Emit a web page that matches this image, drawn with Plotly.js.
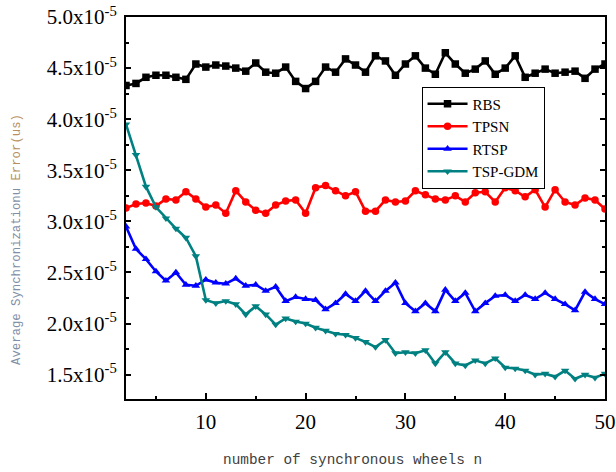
<!DOCTYPE html>
<html>
<head>
<meta charset="utf-8">
<script src="https://cdn.plot.ly/plotly-3.0.1.min.js"></script>
<style>html,body{margin:0;padding:0;background:#fff;}#chart{width:616px;height:472px;}</style>
</head>
<body>
<div id="chart"></div>
<script>
// number of synchronous wheels n
const nValues = [2,3,4,5,6,7,8,9,10,11,12,13,14,15,16,17,18,19,20,21,22,23,24,25,26,27,28,29,30,31,32,33,34,35,36,37,38,39,40,41,42,43,44,45,46,47,48,49,50];
// values in units of 1e-5 us
const SCALE = 1e-5;
const rbs = [4.33,4.35,4.41,4.43,4.43,4.41,4.39,4.54,4.51,4.53,4.52,4.50,4.47,4.55,4.46,4.45,4.51,4.37,4.30,4.37,4.51,4.46,4.59,4.53,4.46,4.62,4.57,4.43,4.54,4.62,4.50,4.44,4.65,4.54,4.45,4.49,4.57,4.44,4.50,4.62,4.41,4.45,4.49,4.45,4.46,4.47,4.40,4.49,4.54];
const tpsn = [3.13,3.17,3.18,3.15,3.22,3.21,3.29,3.22,3.14,3.16,3.08,3.30,3.19,3.11,3.08,3.16,3.20,3.21,3.08,3.33,3.35,3.30,3.25,3.29,3.10,3.10,3.21,3.19,3.20,3.30,3.26,3.22,3.21,3.25,3.19,3.28,3.29,3.19,3.33,3.30,3.24,3.31,3.14,3.31,3.19,3.16,3.23,3.21,3.12];
const rtsp = [2.95,2.73,2.63,2.51,2.42,2.50,2.38,2.37,2.43,2.40,2.39,2.44,2.37,2.38,2.32,2.36,2.22,2.26,2.24,2.23,2.14,2.20,2.29,2.22,2.32,2.22,2.32,2.40,2.20,2.12,2.20,2.12,2.33,2.22,2.30,2.12,2.20,2.27,2.28,2.22,2.28,2.24,2.30,2.24,2.19,2.13,2.31,2.24,2.19];
const tspgdm = [3.95,3.65,3.34,3.14,3.03,2.93,2.84,2.66,2.23,2.20,2.22,2.19,2.09,2.17,2.09,1.99,2.05,2.02,2.00,1.96,1.93,1.90,1.89,1.86,1.82,1.77,1.84,1.71,1.72,1.71,1.74,1.61,1.72,1.61,1.59,1.64,1.61,1.66,1.57,1.56,1.54,1.50,1.51,1.48,1.54,1.46,1.50,1.47,1.51];
const seriesNames = ["RBS","TPSN","RTSP","TSP-GDM"];
const seriesColors = ["#000000","#ff0000","#0000ff","#008080"];
const seriesSymbols = ["square","circle","triangle-up","triangle-down"];
const yTickVals = [1.5,2.0,2.5,3.0,3.5,4.0,4.5,5.0];
const yTickText = ["1.5x10<sup>-5</sup>","2.0x10<sup>-5</sup>","2.5x10<sup>-5</sup>","3.0x10<sup>-5</sup>","3.5x10<sup>-5</sup>","4.0x10<sup>-5</sup>","4.5x10<sup>-5</sup>","5.0x10<sup>-5</sup>"];
const xTickVals = [10,20,30,40,50];

const allSeries = [rbs,tpsn,rtsp,tspgdm];
const traces = allSeries.map((s,i)=>({
  x: nValues,
  y: s.map(v=>v*SCALE),
  name: seriesNames[i],
  type: 'scatter',
  mode: 'lines+markers',
  line: {color: seriesColors[i], width: 2.6},
  marker: {color: seriesColors[i], symbol: seriesSymbols[i], size: 7.5}
}));

const serif = '"Liberation Serif", "DejaVu Serif", serif';
const layout = {
  width: 616, height: 472,
  margin: {l:126, r:11, t:17, b:73, pad:0},
  paper_bgcolor: '#ffffff', plot_bgcolor: '#ffffff',
  showlegend: true,
  legend: {
    x: 0.617, y: 0.818, xanchor: 'left', yanchor: 'top',
    bgcolor: '#ffffff', bordercolor: '#000000', borderwidth: 1,
    font: {family: serif, size: 15, color: '#000000'},
    itemwidth: 40, tracegroupgap: 0
  },
  xaxis: {
    range: [2,50], tickvals: xTickVals, ticktext: xTickVals.map(String),
    ticks: 'inside', ticklen: 6, tickwidth: 2, tickcolor: '#000',
    minor: {dtick: 5, tick0: 0, ticks: 'inside', ticklen: 3, tickwidth: 2, tickcolor: '#000'},
    showline: true, linecolor: '#000', linewidth: 2, mirror: true,
    showgrid: false, zeroline: false, ticklabelstandoff: 3,
    tickfont: {family: serif, size: 21, color: '#000'}
  },
  yaxis: {
    range: [1.262e-5, 5.0e-5],
    tickvals: yTickVals.map(v=>v*SCALE), ticktext: yTickText,
    ticks: 'inside', ticklen: 5, tickwidth: 2, tickcolor: '#000',
    minor: {dtick: 0.25e-5, tick0: 0, ticks: 'inside', ticklen: 3, tickwidth: 2, tickcolor: '#000'},
    showline: true, linecolor: '#000', linewidth: 2, mirror: 'ticks',
    showgrid: false, zeroline: false, ticklabelstandoff: 3,
    tickfont: {family: serif, size: 21, color: '#000'}
  },
  annotations: [
    {text: 'number of synchronous wheels n', xref: 'paper', yref: 'paper',
     x: (352-126)/479, y: -(460-399)/382, xanchor: 'center', yanchor: 'middle', showarrow: false,
     font: {family: '"Liberation Mono", monospace', size: 14.4, color: '#404040'}},
    {text: '<span style="color:#7f8fa8">Average Synchronizationu </span><span style="color:#b89060">Error(us)</span>',
     xref: 'paper', yref: 'paper', x: -(126-17)/479, y: (399-240)/382, textangle: -90,
     xanchor: 'center', yanchor: 'middle', showarrow: false,
     font: {family: '"Liberation Mono", monospace', size: 12.3, color: '#7f8fa8'}}
  ]
};
Plotly.newPlot('chart', traces, layout, {displayModeBar: false, staticPlot: true});
</script>
</body>
</html>
